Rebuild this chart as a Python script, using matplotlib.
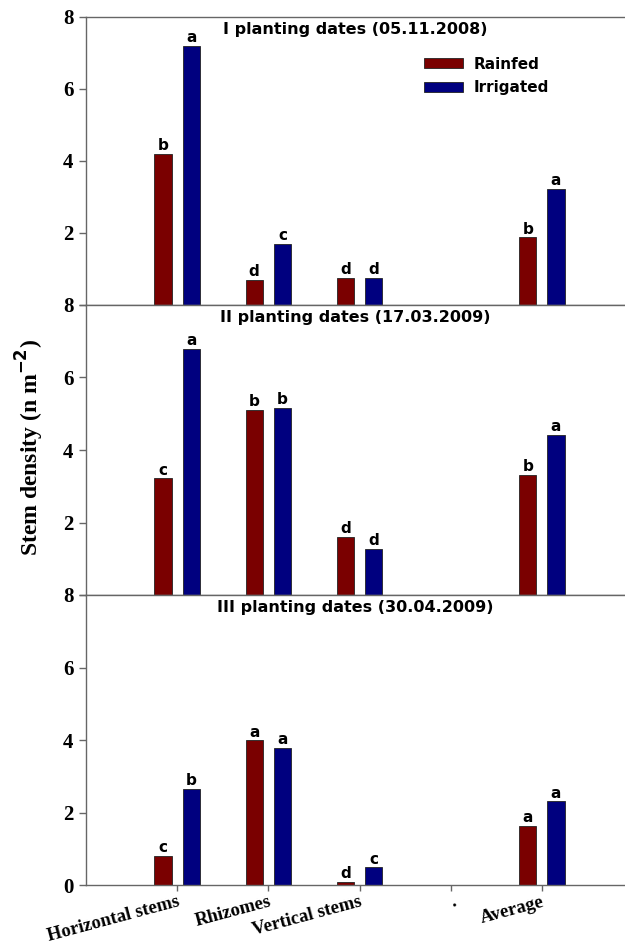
import numpy as np
import matplotlib.pyplot as plt

categories = ["Horizontal stems", "Rhizomes", "Vertical stems", ".", "Average"]
titles = ["I planting dates (05.11.2008)",
          "II planting dates (17.03.2009)",
          "III planting dates (30.04.2009)"]

# stem density per panel, None for the empty "." slot
rainfed = [
    [4.2, 0.7, 0.76, None, 1.88],
    [3.22, 5.1, 1.61, None, 3.31],
    [0.81, 3.99, 0.08, None, 1.63],
]
irrigated = [
    [7.2, 1.7, 0.76, None, 3.22],
    [6.8, 5.16, 1.28, None, 4.41],
    [2.65, 3.78, 0.49, None, 2.31],
]
letters_rain = [
    ["b", "d", "d", None, "b"],
    ["c", "b", "d", None, "b"],
    ["c", "a", "d", None, "a"],
]
letters_irr = [
    ["a", "c", "d", None, "a"],
    ["a", "b", "d", None, "a"],
    ["b", "a", "c", None, "a"],
]

c_rain = "#7a0000"
c_irr = "#00007f"
spine_col = "#666666"
serif = "Liberation Serif"
sans = "DejaVu Sans"

fig = plt.figure(figsize=(6.25, 9.47), dpi=100)
W, H = 625.0, 947.0
left, right = 86, 633
bounds = [(17, 305), (305, 595), (595, 885)]

x = np.arange(1, len(categories) + 1)
off, width = 0.155, 0.19

axes = []
for i, (top, bot) in enumerate(bounds):
    ax = fig.add_axes([left / W, 1 - bot / H, (right - left) / W, (bot - top) / H])
    axes.append(ax)
    for j, xi in enumerate(x):
        if rainfed[i][j] is None:
            continue
        ax.bar(xi - off, rainfed[i][j], width, color=c_rain, edgecolor="#222222", linewidth=0.6,
               label="Rainfed" if j == 0 else None)
        ax.bar(xi + off, irrigated[i][j], width, color=c_irr, edgecolor="#222222", linewidth=0.6,
               label="Irrigated" if j == 0 else None)
        ax.annotate(letters_rain[i][j], (xi - off, rainfed[i][j]), xytext=(0, 0.5),
                    textcoords="offset points", ha="center", va="bottom",
                    fontsize=11, fontweight="bold", family=sans)
        ax.annotate(letters_irr[i][j], (xi + off, irrigated[i][j]), xytext=(0, 0.5),
                    textcoords="offset points", ha="center", va="bottom",
                    fontsize=11, fontweight="bold", family=sans)

    ax.set_xlim(0, 6)
    ax.set_ylim(0, 8)
    ax.set_yticks([0, 2, 4, 6, 8])
    if i < 2:
        ax.set_yticklabels(["", "2", "4", "6", "8"])
    else:
        ax.set_yticklabels(["0", "2", "4", "6", "8"])
    for lab in ax.get_yticklabels():
        lab.set_family(serif)
        lab.set_fontweight("bold")
        lab.set_fontsize(15)
    ax.tick_params(axis="y", direction="out", length=5, width=1, color=spine_col, pad=4)
    ax.spines["right"].set_visible(False)
    for s in ["left", "top", "bottom"]:
        ax.spines[s].set_color(spine_col)
        ax.spines[s].set_linewidth(1.0)
    ax.text(2.95, 7.85, titles[i], ha="center", va="top", fontsize=11.5,
            fontweight="bold", family=sans)

    if i < 2:
        ax.set_xticks([])
    else:
        ax.set_xticks(x)
        ax.set_xticklabels(categories, rotation=15, ha="right", rotation_mode="anchor",
                           family=serif, fontweight="bold", fontsize=13.5)
        ax.tick_params(axis="x", direction="out", length=4, width=1, color=spine_col, pad=2)
        # center the "." label under its tick
        ax.get_xticklabels()[3].set_ha("center")

axes[0].legend(loc="upper left", bbox_to_anchor=(0.592, 0.91), frameon=False,
               prop={"family": sans, "weight": "bold", "size": 11},
               handlelength=2.6, handleheight=0.6, labelspacing=0.55, handletextpad=0.7)

fig.text(30 / W, 1 - 448 / H, "Stem density (n m$^{\\mathbf{-2}}$)", rotation=90,
         ha="center", va="center", family=serif, fontweight="bold", fontsize=17)

fig.savefig("out.png", dpi=100)
